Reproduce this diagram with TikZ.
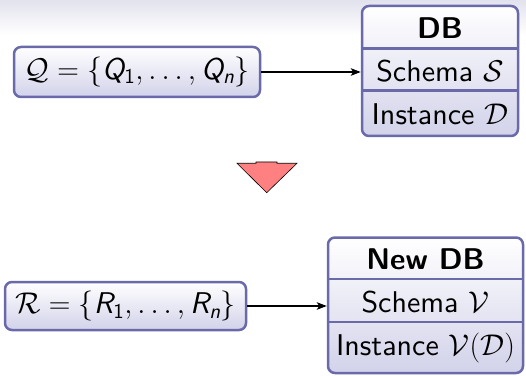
\RequirePackage{fix-cm}
\documentclass[tikz,border=0pt]{standalone}
\usetikzlibrary{arrows.meta,calc}

% Latin Modern Sans at its 10pt design size, at every size
\DeclareFontFamily{TU}{lmsstext}{}
\DeclareFontShape{TU}{lmsstext}{m}{n}{<-> \UnicodeFontFile{lmsans10-regular}{\UnicodeFontTeXLigatures}}{}
\DeclareFontShape{TU}{lmsstext}{m}{sl}{<-> \UnicodeFontFile{lmsans10-oblique}{\UnicodeFontTeXLigatures}}{}
\DeclareFontShape{TU}{lmsstext}{b}{n}{<-> \UnicodeFontFile{lmsans10-bold}{\UnicodeFontTeXLigatures}}{}
\DeclareFontShape{TU}{lmsstext}{bx}{n}{<-> ssub * lmsstext/b/n}{}
\renewcommand\sfdefault{lmsstext}

% sans-serif letters and digits in math, beamer style
\DeclareSymbolFont{sfit}{TU}{lmsstext}{m}{sl}
\DeclareSymbolFont{sfup}{TU}{lmsstext}{m}{n}
\DeclareMathSymbol{Q}{\mathalpha}{sfit}{`Q}
\DeclareMathSymbol{R}{\mathalpha}{sfit}{`R}
\DeclareMathSymbol{n}{\mathalpha}{sfit}{`n}
\DeclareMathSymbol{1}{\mathalpha}{sfup}{`1}

\definecolor{boxline}{RGB}{106,106,170}
\definecolor{boxfill}{RGB}{210,210,234}
\definecolor{headband}{RGB}{226,226,238}
\definecolor{stepred}{RGB}{255,128,128}

\tikzset{
  roundbox/.style={draw=boxline, line width=2.5pt, rounded corners=7pt,
    top color=white, bottom color=boxfill, inner sep=0pt},
  rowtext/.style={inner sep=0pt},
  divider/.style={draw=boxline, line width=2.5pt},
  conn/.style={line width=1.4pt, -{Stealth[length=10pt,width=7.5pt,inset=2.5pt]}},
  downarrow/.style={fill=stepred, draw=black, line width=0.6pt, line join=miter},
}

\begin{document}
\begin{tikzpicture}[x=1pt, y=1pt, font=\fontsize{30}{36}\selectfont\sffamily]
  % page and shaded head band
  \fill[white] (0,0) rectangle (526,375);
  \shade[top color=headband, bottom color=white] (0,340) rectangle (526,375);
  \useasboundingbox (0,0) rectangle (526,375);

  % ---- query set and source database ----
  \node[roundbox, minimum width=246pt, minimum height=50pt] (q) at (137,303)
    {$\mathcal{Q}=\{Q_1,\ldots,Q_n\}$};

  \node[roundbox, minimum width=156pt, minimum height=130pt] (db) at (440,304) {};
  \draw[divider] ($(db.north west)+(0,-44)$) -- ($(db.north east)+(0,-44)$);
  \draw[divider] ($(db.north west)+(0,-86)$) -- ($(db.north east)+(0,-86)$);
  \node[rowtext] (dbtitle) at (440,347) {\bfseries DB};
  \node[rowtext] (dbschema) at (440,304) {Schema $\mathcal{S}$};
  \node[rowtext] (dbinst) at (440,261) {Instance $\mathcal{D}$};

  \draw[conn] (q.east) -- (q.east -| db.west);

  % ---- rewriting step ----
  \draw[downarrow] (256,213) -- (277,213) -- (277,211.7) -- (297,211.7)
    -- (266.7,182.3) -- (237,211.7) -- (256,211.7) -- cycle;

  % ---- rewritten set and new database ----
  \node[roundbox, minimum width=241pt, minimum height=48pt] (r) at (125.5,69)
    {$\mathcal{R}=\{R_1,\ldots,R_n\}$};

  \node[roundbox, minimum width=195pt, minimum height=135.5pt] (ndb) at (425.5,69.75) {};
  \draw[divider] ($(ndb.north west)+(0,-42.5)$) -- ($(ndb.north east)+(0,-42.5)$);
  \draw[divider] ($(ndb.north west)+(0,-85.8)$) -- ($(ndb.north east)+(0,-85.8)$);
  \node[rowtext] (ndbtitle) at (425.5,116.2) {\bfseries New DB};
  \node[rowtext] (ndbschema) at (425.5,73.3) {Schema $\mathcal{V}$};
  \node[rowtext] (ndbinst) at (425.5,26.8) {Instance $\mathcal{V}(\mathcal{D})$};

  \draw[conn] (r.east) -- (r.east -| ndb.west);
\end{tikzpicture}
\end{document}
